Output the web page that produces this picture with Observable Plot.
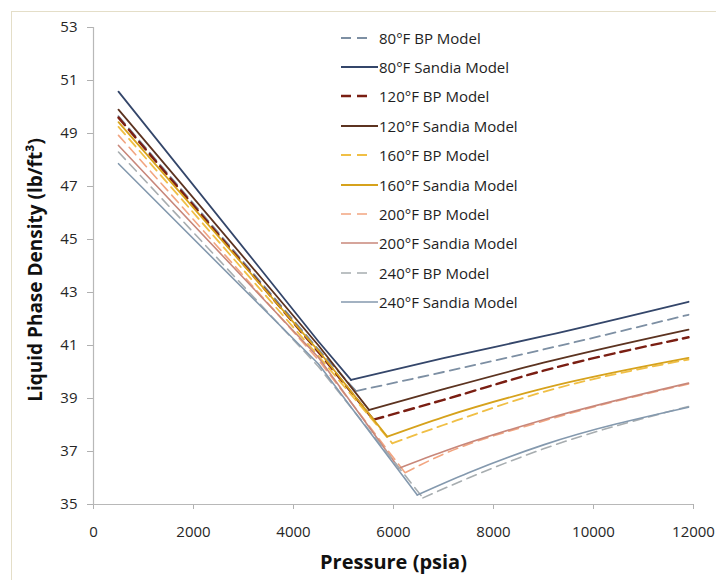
<!DOCTYPE html>
<html><head><meta charset="utf-8">
<script src="https://cdn.jsdelivr.net/npm/d3@7"></script>
<script src="https://cdn.jsdelivr.net/npm/@observablehq/plot@0.6"></script>
<style>
body{margin:0;background:#fff;}
#wrap{position:relative;width:716px;height:580px;overflow:hidden;font-family:"Open Sans",sans-serif;background:#fff;}
#border{position:absolute;left:11px;top:11px;width:800px;height:800px;border-left:1.5px solid #e4dec8;border-top:1.5px solid #e4dec8;pointer-events:none;}
#legend{position:absolute;left:341px;top:23px;}
.row{display:flex;align-items:center;height:29.4px;font-size:15px;color:#1e1e1e;white-space:nowrap;}
.row svg{display:block;}
</style></head><body><div id="wrap"><div id="border"></div></div>
<script>
const xTicks = [0, 2000, 4000, 6000, 8000, 10000, 12000];
const yTicks = [35, 37, 39, 41, 43, 45, 47, 49, 51, 53];
const xTitle = "Pressure (psia)";
const yTitle = "Liquid Phase Density (lb/ft³)";

const seriesNames = [
  "80°F BP Model", "80°F Sandia Model",
  "120°F BP Model", "120°F Sandia Model",
  "160°F BP Model", "160°F Sandia Model",
  "200°F BP Model", "200°F Sandia Model",
  "240°F BP Model", "240°F Sandia Model"
];

// pressure (psia) and density (lb/ft3)
const p80BP = [500, 4500, 5250, 7000, 9000, 11900];
const d80BP = [49.65, 40.85, 39.28, 40.00, 40.85, 42.16];
const p80S  = [500, 4500, 5150, 7000, 9000, 11900];
const d80S  = [50.58, 41.15, 39.70, 40.52, 41.35, 42.65];
const p120BP = [500, 4500, 5600, 7000, 9000, 11900];
const d120BP = [49.60, 40.75, 38.20, 38.95, 40.05, 41.31];
const p120S  = [500, 4500, 5510, 7000, 9000, 11900];
const d120S  = [49.90, 41.00, 38.57, 39.35, 40.35, 41.60];
const p160BP = [500, 4500, 5975, 7000, 9000, 11900];
const d160BP = [49.25, 40.60, 37.31, 38.00, 39.25, 40.47];
const p160S  = [500, 4500, 5875, 7000, 9000, 11900];
const d160S  = [49.43, 40.80, 37.56, 38.30, 39.38, 40.53];
const p200BP = [500, 4500, 6230, 7000, 9000, 11900];
const d200BP = [48.93, 40.45, 36.20, 36.90, 38.15, 39.55];
const p200S  = [500, 4500, 6110, 7000, 9000, 11900];
const d200S  = [48.55, 40.55, 36.37, 37.00, 38.20, 39.58];
const p240BP = [500, 4500, 6590, 7500, 9000, 11900];
const d240BP = [48.30, 40.20, 35.25, 36.00, 37.10, 38.70];
const p240S  = [500, 4500, 6475, 7500, 9000, 11900];
const d240S  = [47.86, 40.30, 35.36, 36.20, 37.25, 38.67];

const seriesPressure = [p80BP, p80S, p120BP, p120S, p160BP, p160S, p200BP, p200S, p240BP, p240S];
const seriesDensity  = [d80BP, d80S, d120BP, d120S, d160BP, d160S, d200BP, d200S, d240BP, d240S];

const seriesColor = ["#7d8fa3", "#34466a", "#7a1e12", "#5c3320", "#f0bf45", "#d6a21c", "#f2a580", "#c8877a", "#a7adb0", "#8499ae"];
const seriesDash  = ["10,6", null, "10,6", null, "10,6", null, "10,6", null, "10,6", null];
const seriesWidth = [1.8, 1.8, 2.4, 1.8, 1.8, 1.8, 1.6, 1.6, 1.6, 1.6];

// each series: descending branch (to the bubble point) and rising branch after it
const data = seriesNames.flatMap((name, i) => {
  const ds = seriesDensity[i];
  const kink = ds.indexOf(Math.min(...ds));
  return seriesPressure[i].flatMap((p, j) => {
    const rows = [];
    if (j <= kink) rows.push({series: name, branch: "down", pressure: p, density: ds[j]});
    if (j >= kink) rows.push({series: name, branch: "up", pressure: p, density: ds[j]});
    return rows;
  });
});

const lineMarks = seriesNames.flatMap((name, i) => ["down", "up"].map(branch =>
  Plot.line(data, {
    filter: d => d.series === name && d.branch === branch,
    x: "pressure", y: "density",
    curve: branch === "up" ? "monotone-x" : "linear",
    stroke: seriesColor[i],
    strokeWidth: seriesWidth[i],
    strokeDasharray: seriesDash[i] || undefined
  })));

const chart = Plot.plot({
  width: 716, height: 580,
  marginLeft: 93, marginRight: 23, marginTop: 27, marginBottom: 76,
  style: {fontFamily: "'Open Sans', sans-serif", fontSize: "15px", color: "#262626", background: "transparent", overflow: "visible"},
  x: {domain: [xTicks[0], xTicks[xTicks.length - 1]], label: null},
  y: {domain: [yTicks[0], yTicks[yTicks.length - 1]], label: null},
  marks: [
    Plot.axisX({ticks: xTicks, tickSize: 5, tickPadding: 17, tickFormat: d => String(d), stroke: "#b0b0b0", label: null}),
    Plot.axisY({ticks: yTicks, tickSize: 6, tickPadding: 10, tickFormat: d => String(d), stroke: "#b0b0b0", label: null}),
    Plot.ruleY([yTicks[0]], {stroke: "#b8b8b8", strokeWidth: 1.2}),
    Plot.ruleX([xTicks[0]], {stroke: "#b8b8b8", strokeWidth: 1.2}),
    ...lineMarks,
    Plot.text([xTitle], {frameAnchor: "bottom", dy: 64, fontSize: 20, fontWeight: "bold", fill: "#111"}),
    Plot.text([yTitle], {frameAnchor: "left", textAnchor: "middle", dx: -58, dy: 4, rotate: -90, fontSize: 19, fontWeight: "bold", fill: "#111"})
  ]
});

const wrap = document.getElementById("wrap");
wrap.appendChild(chart);
chart.style.position = "absolute";
chart.style.left = "0";
chart.style.top = "0";

// legend inside the plot area
const legend = document.createElement("div");
legend.id = "legend";
seriesNames.forEach((name, i) => {
  const row = document.createElement("div");
  row.className = "row";
  const svg = d3.create("svg").attr("width", 37).attr("height", 10);
  const ln = svg.append("line").attr("x1", 0).attr("y1", 5).attr("y2", 5)
    .attr("stroke", seriesColor[i]).attr("stroke-width", seriesWidth[i]);
  if (seriesDash[i]) ln.attr("x2", 26).attr("stroke-dasharray", seriesDash[i]);
  else ln.attr("x2", 37);
  row.appendChild(svg.node());
  const t = document.createElement("span");
  t.textContent = name;
  t.style.marginLeft = "1px";
  row.appendChild(t);
  legend.appendChild(row);
});
wrap.appendChild(legend);
</script></body></html>
